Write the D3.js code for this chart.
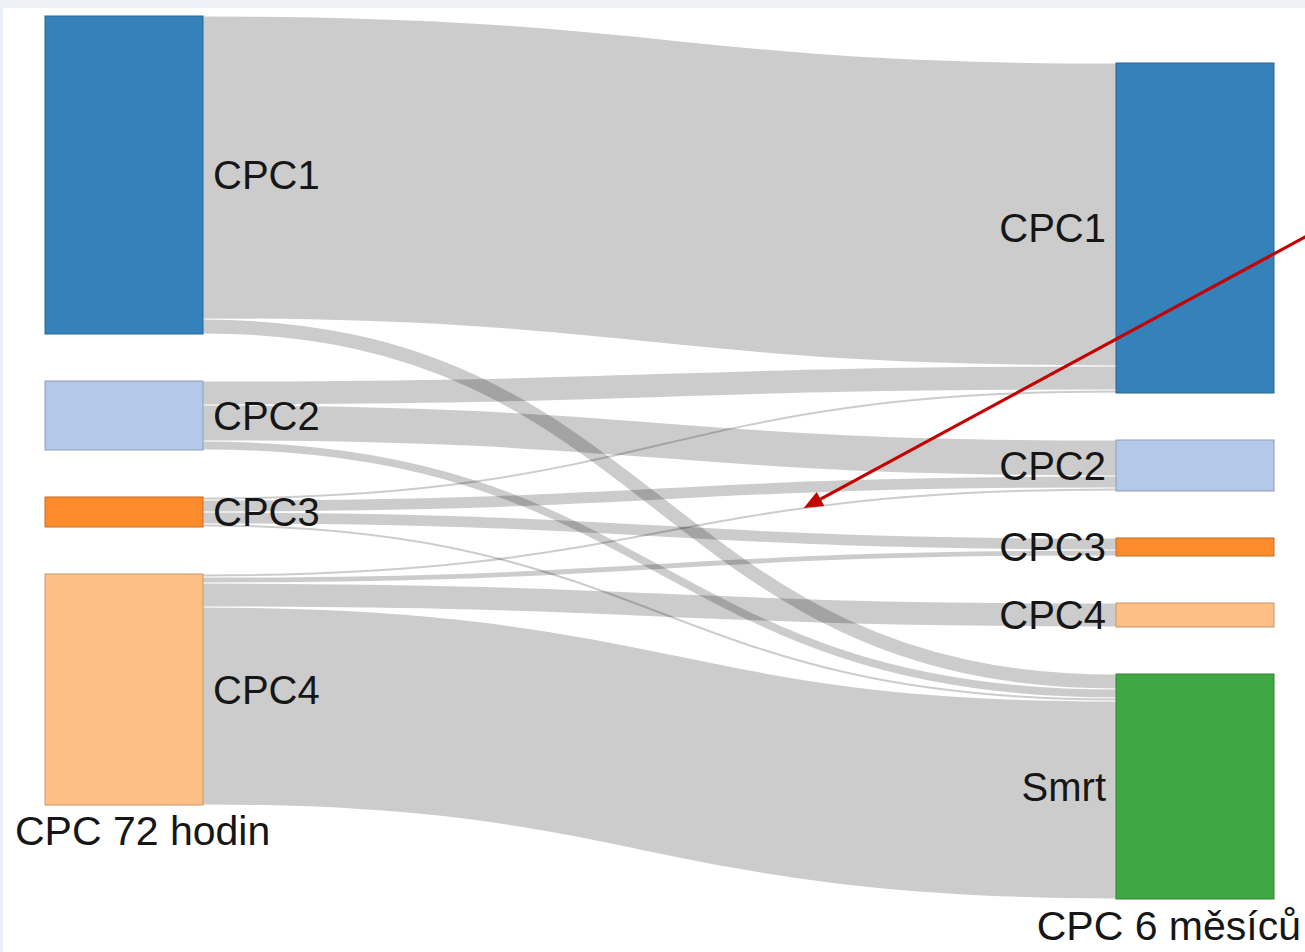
<!DOCTYPE html>
<html>
<head>
<meta charset="utf-8">
<script src="https://cdn.jsdelivr.net/npm/d3@7"></script>
<style>
  body { margin: 0; background: #fff; }
  text { font-family: "Liberation Sans", Arial, sans-serif; fill: #161616; }
</style>
</head>
<body>
<div id="chart"></div>
<script>
// CPC after 72 hours -> CPC after 6 months (patients)
var stages = ["CPC 72 hodin", "CPC 6 měsíců"];
var sourceNodes = ["CPC1", "CPC2", "CPC3", "CPC4"];
var targetNodes = ["CPC1", "CPC2", "CPC3", "CPC4", "Smrt"];

var linkSource = ["CPC1", "CPC1", "CPC2", "CPC2", "CPC2", "CPC3", "CPC3", "CPC3", "CPC3", "CPC4", "CPC4", "CPC4", "CPC4"];
var linkTarget = ["CPC1", "Smrt", "CPC1", "CPC2", "Smrt", "CPC1", "CPC2", "CPC3", "Smrt", "CPC2", "CPC3", "CPC4", "Smrt"];
var linkValue  = [101, 5, 8, 12, 3, 1, 4, 4, 1, 1, 2, 8, 66];

var width = 1305, height = 952;
var extent = [16, 899];      // vertical room for the columns
var flowHeight = 648;        // px used by all nodes of one column
var nodeWidth = 158;
var nodePadding = 47;

var color = d3.scaleOrdinal()
    .domain(targetNodes)
    .range(["#3581ba", "#b4c9e8", "#fd8b2c", "#fdbf85", "#3fa844"]);

var svg = d3.select("#chart").append("svg")
    .attr("width", width)
    .attr("height", height);

// page frame
svg.append("rect").attr("width", width).attr("height", 8).attr("fill", "#edf0f6");
svg.append("rect").attr("y", 8).attr("width", 3).attr("height", height - 8).attr("fill", "#e9eef8");

var links = linkValue.map(function(v, i) {
  return { source: linkSource[i], target: linkTarget[i], value: v };
});

var total = d3.sum(linkValue);
var vy = d3.scaleLinear().domain([0, total]).range([0, flowHeight]);
var xCol = d3.scalePoint().domain([0, 1]).range([45, 1116]);

function layoutColumn(names, col, key) {
  var list = names.map(function(name) {
    var v = d3.sum(links.filter(function(l) { return l[key] === name; }), function(l) { return l.value; });
    return { name: name, col: col, value: v, h: vy(v) };
  });
  var span = d3.sum(list, function(d) { return d.h; }) + (list.length - 1) * nodePadding;
  // left column hangs from the top, right column sits on the bottom
  var y = col === 0 ? extent[0] : extent[1] - span;
  list.forEach(function(d) {
    d.y0 = y;
    d.y1 = y + d.h;
    d.x0 = xCol(col);
    d.x1 = d.x0 + nodeWidth;
    y = d.y1 + nodePadding;
  });
  return list;
}

var leftCol = layoutColumn(sourceNodes, 0, "source");
var rightCol = layoutColumn(targetNodes, 1, "target");
var leftBy = {}, rightBy = {};
leftCol.forEach(function(d) { leftBy[d.name] = d; });
rightCol.forEach(function(d) { rightBy[d.name] = d; });

links.forEach(function(l) {
  l.s = leftBy[l.source];
  l.t = rightBy[l.target];
  l.w = vy(l.value);
});

// stack link ends on each node
leftCol.forEach(function(n) {
  var y = n.y0;
  links.filter(function(l) { return l.s === n; })
    .sort(function(a, b) { return a.t.y0 - b.t.y0; })
    .forEach(function(l) { l.sy = y + l.w / 2; y += l.w; });
});
rightCol.forEach(function(n) {
  var y = n.y0;
  links.filter(function(l) { return l.t === n; })
    .sort(function(a, b) { return a.s.y0 - b.s.y0; })
    .forEach(function(l) { l.ty = y + l.w / 2; y += l.w; });
});

var linkPath = d3.linkHorizontal();

svg.append("g")
    .attr("class", "links")
  .selectAll("path")
  .data(links)
  .enter()
  .append("path")
    .attr("d", function(l) { return linkPath({ source: [l.s.x1, l.sy], target: [l.t.x0, l.ty] }); })
    .attr("fill", "none")
    .attr("stroke", "#000")
    .attr("stroke-opacity", 0.2)
    .attr("stroke-width", function(l) { return Math.max(l.w - 1.2, 2); });

var allNodes = leftCol.concat(rightCol);

svg.append("g")
    .attr("class", "nodes")
  .selectAll("rect")
  .data(allNodes)
  .enter()
  .append("rect")
    .attr("x", function(d) { return d.x0; })
    .attr("y", function(d) { return d.y0; })
    .attr("width", nodeWidth)
    .attr("height", function(d) { return d.h; })
    .attr("fill", function(d) { return color(d.name); })
    .attr("stroke", function(d) { return d3.color(color(d.name)).darker(0.7); })
    .attr("stroke-width", 1);

svg.append("g")
    .attr("class", "labels")
  .selectAll("text")
  .data(allNodes)
  .enter()
  .append("text")
    .attr("x", function(d) { return d.col === 0 ? d.x1 + 10 : d.x0 - 10; })
    .attr("y", function(d) { return (d.y0 + d.y1) / 2; })
    .attr("dy", "0.36em")
    .attr("text-anchor", function(d) { return d.col === 0 ? "start" : "end"; })
    .style("font-size", "40px")
    .text(function(d) { return d.name; });

// column titles under each column
var colBottom = [d3.max(leftCol, function(d) { return d.y1; }), d3.max(rightCol, function(d) { return d.y1; })];
svg.append("text")
    .attr("x", xCol(0) - 30)
    .attr("y", colBottom[0] + 40)
    .style("font-size", "41px")
    .text(stages[0]);
svg.append("text")
    .attr("x", width - 4)
    .attr("y", colBottom[1] + 41)
    .attr("text-anchor", "end")
    .style("font-size", "41px")
    .text(stages[1]);

// red annotation arrow pointing at the CPC4 -> CPC2 link
function bezierPoint(l, t) {
  var x0 = l.s.x1, x1 = l.t.x0, xm = (x0 + x1) / 2;
  var u = 1 - t;
  return [
    u * u * u * x0 + 3 * u * u * t * xm + 3 * u * t * t * xm + t * t * t * x1,
    u * u * u * l.sy + 3 * u * u * t * l.sy + 3 * u * t * t * l.ty + t * t * t * l.ty
  ];
}
var noted = links.filter(function(l) { return l.source === "CPC4" && l.target === "CPC2"; })[0];
var tip = bezierPoint(noted, 0.7);
var tail = [tip[0] + 503, tip[1] - 272];

var ang = Math.atan2(tip[1] - tail[1], tip[0] - tail[0]);
var headLen = 19, headHalf = 8;
var base = [tip[0] - headLen * Math.cos(ang), tip[1] - headLen * Math.sin(ang)];

svg.append("line")
    .attr("x1", tail[0])
    .attr("y1", tail[1])
    .attr("x2", base[0])
    .attr("y2", base[1])
    .attr("stroke", "#c40000")
    .attr("stroke-width", 3.2);

svg.append("path")
    .attr("d", d3.line()([
      tip,
      [base[0] + headHalf * Math.sin(ang), base[1] - headHalf * Math.cos(ang)],
      [base[0] - headHalf * Math.sin(ang), base[1] + headHalf * Math.cos(ang)]
    ]) + "Z")
    .attr("fill", "#c40000");
</script>
</body>
</html>
